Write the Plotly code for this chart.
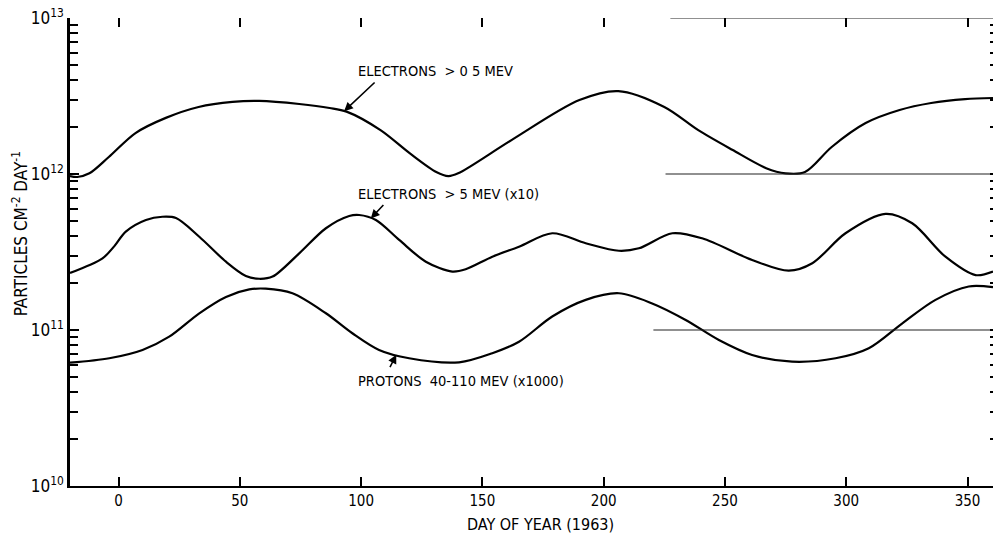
import numpy as np
import plotly.graph_objects as go

# ---------------- data ----------------
days_e05 = [-20, -17, -12, -4, 7, 19.5, 33, 47, 58, 74.5, 87, 94, 108, 120, 131, 136, 140,
            162, 190, 206, 225, 239, 253, 267, 275, 283, 294, 308, 322, 335, 349, 360.5]
flux_e05 = [9.70e11, 9.57e11, 1.01e12, 1.285e12, 1.83e12, 2.29e12, 2.69e12, 2.90e12, 2.94e12,
            2.81e12, 2.65e12, 2.51e12, 1.91e12, 1.36e12, 1.03e12, 9.70e11, 1.01e12,
            1.65e12, 2.98e12, 3.40e12, 2.69e12, 1.91e12, 1.43e12, 1.09e12, 1.01e12, 1.03e12,
            1.49e12, 2.12e12, 2.57e12, 2.85e12, 3.02e12, 3.07e12]

days_e5 = [-20, -6.6, -1.7, 3.0, 11.3, 18.1, 23.7, 33.3, 44.3, 52.5, 58.0, 63.5, 74.5, 85.5, 95.1,
           99.2, 106.1, 115.7, 126.7, 137.6, 143.1, 154.1, 165.1, 178.8, 192.6, 206.3, 214.5,
           228.3, 240.6, 261.2, 276.3, 286.0, 299.7, 316.2, 327.2, 340.9, 353.3, 360.5]
flux_e5_x10 = [2.32e11, 2.88e11, 3.45e11, 4.27e11, 5.07e11, 5.32e11, 5.22e11, 3.96e11, 2.74e11,
               2.22e11, 2.13e11, 2.20e11, 3.10e11, 4.49e11, 5.38e11, 5.46e11, 5.07e11, 3.78e11,
               2.74e11, 2.37e11, 2.45e11, 2.95e11, 3.42e11, 4.17e11, 3.60e11, 3.22e11, 3.34e11,
               4.17e11, 3.87e11, 2.81e11, 2.40e11, 2.68e11, 4.17e11, 5.55e11, 4.83e11, 2.95e11,
               2.25e11, 2.37e11]

days_p = [-20, -3.8, 9.9, 20.9, 33.3, 44.3, 53.9, 60.7, 71.7, 85.5, 96.4, 107.4, 119.8, 140.4,
          154.1, 165.1, 178.8, 192.6, 206.3, 220.0, 233.8, 247.5, 261.2, 277.7, 295.6, 309.3,
          323.0, 336.8, 350.5, 360.5]
flux_p_x1000 = [6.17e10, 6.59e10, 7.45e10, 9.06e10, 1.28e11, 1.63e11, 1.82e11, 1.84e11, 1.72e11,
                1.28e11, 9.53e10, 7.45e10, 6.59e10, 6.21e10, 7.10e10, 8.41e10, 1.22e11, 1.56e11,
                1.72e11, 1.48e11, 1.16e11, 8.63e10, 6.92e10, 6.27e10, 6.59e10, 7.64e10, 1.10e11,
                1.56e11, 1.90e11, 1.88e11]

x_ticks = [0, 50, 100, 150, 200, 250, 300, 350]
y_decades = [1e10, 1e11, 1e12, 1e13]
y_decade_labels = ["10<sup>10</sup>", "10<sup>11</sup>", "10<sup>12</sup>", "10<sup>13</sup>"]
minor_multiples = [2, 3, 4, 5, 6, 7, 8, 9]

# partial ruled lines visible at the right of the scanned figure
rule_levels = [1e13, 1e12, 1e11]
rule_start_days = [227.5, 225.5, 220.5]
rule_end_day = 360.5

label_e05 = "ELECTRONS  > 0 5 MEV"
label_e5 = "ELECTRONS  > 5 MEV (x10)"
label_p = "PROTONS  40-110 MEV (x1000)"
x_title = "DAY OF YEAR (1963)"
y_title = "PARTICLES CM<sup>-2</sup> DAY<sup>-1</sup>"

# ---------------- figure ----------------
FONT = "Liberation Sans Narrow, DejaVu Sans Condensed, Liberation Sans, Arial, sans-serif"
X_RANGE = [-20, 360.5]
Y_RANGE = [10, 13]

minor_y = [d * k for d in y_decades[:-1] for k in minor_multiples]

fig = go.Figure()

for xs, ys in [(days_e05, flux_e05), (days_e5, flux_e5_x10), (days_p, flux_p_x1000)]:
    fig.add_trace(go.Scatter(x=xs, y=ys, mode="lines",
                             line=dict(color="black", width=2.2, shape="spline", smoothing=0.9),
                             showlegend=False, hoverinfo="skip"))

for lvl, st in zip(rule_levels, rule_start_days):
    fig.add_trace(go.Scatter(x=[st, rule_end_day], y=[lvl, lvl], mode="lines",
                             line=dict(color="#222", width=1.2),
                             showlegend=False, hoverinfo="skip"))

# invisible traces to activate the extra tick axes
for xa, ya in [("x2", "y2"), ("x", "y3")]:
    fig.add_trace(go.Scatter(x=[X_RANGE[0]], y=[y_decades[0]], xaxis=xa, yaxis=ya,
                             mode="markers", marker=dict(opacity=0), showlegend=False,
                             hoverinfo="skip"))

common = dict(showgrid=False, zeroline=False, automargin=False)
fig.update_layout(
    width=994, height=534,
    margin=dict(l=70, r=1, t=18, b=48, autoexpand=False),
    paper_bgcolor="white", plot_bgcolor="white",
    font=dict(family=FONT, color="black", size=15),
    xaxis=dict(range=X_RANGE, tickvals=x_ticks, ticks="inside", ticklen=9, tickwidth=2,
               tickcolor="black", showline=True, linecolor="black", linewidth=2,
               tickfont=dict(size=15, family=FONT), **common),
    yaxis=dict(type="log", range=Y_RANGE, tickvals=y_decades, ticktext=y_decade_labels,
               ticks="inside", ticklen=9, tickwidth=2, tickcolor="black",
               showline=True, linecolor="black", linewidth=2.5,
               tickfont=dict(size=17, family=FONT), **common),
    yaxis3=dict(type="log", range=Y_RANGE, overlaying="y", side="left", tickvals=minor_y,
                ticks="inside", ticklen=8, tickwidth=2, tickcolor="black",
                showticklabels=False, showline=False, **common),
    xaxis2=dict(range=X_RANGE, overlaying="x", side="top", tickvals=x_ticks, ticks="inside",
                ticklen=9, tickwidth=1.5, tickcolor="black", showticklabels=False,
                showline=False, **common),
    yaxis2=dict(type="log", range=Y_RANGE, overlaying="y", side="right",
                tickvals=minor_y + y_decades, ticks="inside", ticklen=3, tickwidth=2,
                tickcolor="black", showticklabels=False, showline=False, **common),
)


def curve_log(xs, ys, day):
    return float(np.interp(day, xs, np.log10(ys)))


arrow = dict(showarrow=True, arrowhead=2, arrowsize=1.1, arrowwidth=1.6, arrowcolor="black",
             axref="pixel", ayref="pixel")

# arrows from labels to curves
fig.add_annotation(x=93, y=curve_log(days_e05, flux_e05, 93), ax=32, ay=-30, text="", **arrow)
fig.add_annotation(x=104, y=curve_log(days_e5, flux_e5_x10, 104), ax=14, ay=-15, text="", **arrow)
fig.add_annotation(x=114.5, y=curve_log(days_p, flux_p_x1000, 114.5), ax=-7, ay=14, text="", **arrow)

txt = dict(showarrow=False, xanchor="left", yanchor="middle", font=dict(size=14.5, family=FONT))
fig.add_annotation(x=98, y=12.66, text=label_e05, **txt)
fig.add_annotation(x=98, y=11.872, text=label_e5, **txt)
fig.add_annotation(x=98, y=10.673, text=label_p, **txt)

fig.add_annotation(xref="paper", yref="paper", x=0.51, y=-0.0833, xanchor="center",
                   yanchor="middle", text=x_title, showarrow=False,
                   font=dict(size=16, family=FONT))
fig.add_annotation(xref="paper", yref="paper", x=-0.054, y=0.538, xanchor="center",
                   yanchor="middle", text=y_title, textangle=-90, showarrow=False,
                   font=dict(size=17, family=FONT))

fig.write_html("out.html", config={"displayModeBar": False},
               post_script="document.body.style.margin='0';")
